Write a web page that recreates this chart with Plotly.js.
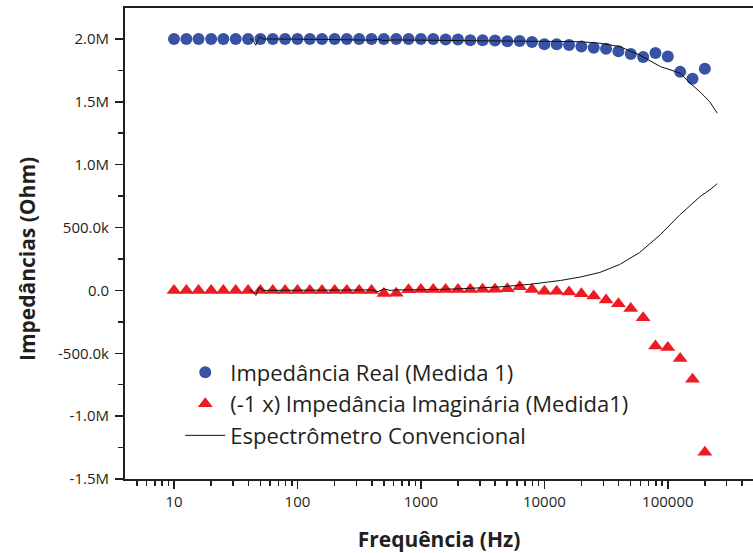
<!DOCTYPE html>
<html>
<head>
<meta charset="utf-8">
<script src="https://cdn.plot.ly/plotly-3.0.1.min.js"></script>
<style>html,body{margin:0;padding:0;background:#fff;}#chart{width:753px;height:553px;}</style>
</head>
<body>
<div id="chart"></div>
<script>
// Measured frequencies (Hz), 10 points per decade from 10 Hz to 200 kHz
const freq = [10, 12.6, 15.8, 20, 25.1, 31.6, 39.8, 50.1, 63.1, 79.4,
  100, 126, 158, 200, 251, 316, 398, 501, 631, 794,
  1000, 1259, 1585, 1995, 2512, 3162, 3981, 5012, 6310, 7943,
  10000, 12589, 15849, 19953, 25119, 31623, 39811, 50119, 63096, 79433,
  100000, 125893, 158489, 199526];

// Impedância Real (Medida 1), Ohm
const realZ = [2.0e6, 2.0e6, 2.0e6, 2.0e6, 2.0e6, 2.0e6, 2.0e6, 2.0e6, 2.0e6, 2.0e6,
  2.0e6, 2.0e6, 2.0e6, 2.0e6, 2.0e6, 2.0e6, 2.0e6, 2.0e6, 2.0e6, 2.0e6,
  2.0e6, 2.0e6, 1.995e6, 1.995e6, 1.99e6, 1.99e6, 1.988e6, 1.982e6, 1.984e6, 1.976e6,
  1.958e6, 1.958e6, 1.952e6, 1.939e6, 1.929e6, 1.921e6, 1.902e6, 1.881e6, 1.857e6, 1.889e6,
  1.860e6, 1.738e6, 1.683e6, 1.762e6];

// (-1 x) Impedância Imaginária (Medida1), Ohm
const imagZ = [0, 0, 0, 0, 0, 0, 0, 0, 0, 0,
  0, 0, 0, 0, 0, 0, 0, -0.025e6, -0.022e6, 0.005e6,
  0.008e6, 0.008e6, 0.008e6, 0.008e6, 0.008e6, 0.01e6, 0.01e6, 0.013e6, 0.029e6, 0.008e6,
  -0.006e6, -0.006e6, -0.013e6, -0.026e6, -0.045e6, -0.077e6, -0.106e6, -0.143e6, -0.217e6, -0.442e6,
  -0.455e6, -0.542e6, -0.706e6, -1.288e6];

// Espectrômetro Convencional (frequency Hz, real and -imag parts, Ohm)
const specFreq = [41, 43.6, 46, 49, 52.5, 63, 100, 158, 251, 398,
  450, 501, 562, 631, 1000, 2000, 4365, 7585, 13490, 19500,
  28180, 40740, 58880, 87100, 125900, 151400, 182000, 218800, 251200];
const specReal = [2.0e6, 1.99e6, 1.95e6, 2.02e6, 2.0e6, 1.998e6, 1.998e6, 1.996e6, 1.995e6, 1.99e6,
  1.998e6, 1.985e6, 1.99e6, 1.992e6, 1.99e6, 1.988e6, 1.987e6, 1.985e6, 1.982e6, 1.978e6,
  1.966e6, 1.939e6, 1.873e6, 1.78e6, 1.728e6, 1.648e6, 1.58e6, 1.5e6, 1.41e6];
const specImag = [0, -0.01e6, -0.04e6, 0.025e6, 0.0e6, 0.0e6, 0.0e6, 0.002e6, 0.002e6, 0.004e6,
  -0.01e6, 0.012e6, 0.0e6, 0.004e6, 0.005e6, 0.012e6, 0.028e6, 0.048e6, 0.079e6, 0.106e6,
  0.143e6, 0.206e6, 0.30e6, 0.444e6, 0.603e6, 0.675e6, 0.745e6, 0.80e6, 0.849e6];

const xTickVals = [10, 100, 1000, 10000, 100000];
const xTickText = ['10', '100', '1000', '10000', '100000'];
const yTickVals = [2.0e6, 1.5e6, 1.0e6, 0.5e6, 0, -0.5e6, -1.0e6, -1.5e6];
const yTickText = ['2.0M', '1.5M', '1.0M', '500.0k', '0.0', '-500.0k', '-1.0M', '-1.5M'];
const yTitle = 'Impedâncias (Ohm)';

const FONT = 'Open Sans, Noto Sans, sans-serif';
const TXT = '#231f20';

const traces = [
  {x: freq, y: realZ, mode: 'markers', type: 'scatter', name: 'Impedância Real (Medida 1)',
   marker: {symbol: 'circle', size: 12, color: '#3953a4'}, legendgroup: 'a'},
  {x: freq, y: imagZ, mode: 'markers', type: 'scatter', name: '(-1 x) Impedância Imaginária (Medida1)',
   marker: {symbol: 'triangle-up', size: 13, color: '#ed1c24'}, legendgroup: 'b'},
  {x: specFreq, y: specReal, mode: 'lines', type: 'scatter', name: 'Espectrômetro Convencional',
   line: {color: '#111', width: 1}, legendgroup: 'c'},
  {x: specFreq, y: specImag, mode: 'lines', type: 'scatter', name: 'Espectrômetro Convencional',
   line: {color: '#111', width: 1}, showlegend: false, legendgroup: 'c'}
];

const layout = {
  width: 753, height: 553,
  margin: {l: 125, r: 0, t: 8, b: 74},
  paper_bgcolor: '#fff', plot_bgcolor: '#fff',
  font: {family: FONT, color: TXT},
  showlegend: true,
  legend: {x: 0.088, y: 0.271, xanchor: 'left', yanchor: 'top', bgcolor: 'rgba(0,0,0,0)',
    font: {size: 22, family: FONT, color: TXT}, itemwidth: 40, tracegroupgap: 4.5, traceorder: 'normal'},
  xaxis: {type: 'log', range: [0.603, 5.69], showline: true, linecolor: '#231f20', linewidth: 2,
    mirror: true, ticks: 'outside', ticklen: 8, tickwidth: 1.5, tickcolor: '#231f20',
    tickvals: xTickVals, ticktext: xTickText, showgrid: false, zeroline: false,
    tickfont: {size: 15, family: FONT, color: TXT},
    minor: {dtick: 'D1', ticks: 'outside', ticklen: 5, tickwidth: 1.5, tickcolor: '#231f20', showgrid: false},
    title: {text: '<b>Frequência (Hz)</b>', font: {size: 21, family: FONT, color: TXT}, standoff: 22}},
  yaxis: {range: [-1.5e6, 2.246e6], showline: true, linecolor: '#231f20', linewidth: 2,
    ticks: 'outside', ticklen: 8, tickwidth: 1.5, tickcolor: '#231f20', ticklabelstandoff: 3,
    tickvals: yTickVals, ticktext: yTickText, showgrid: false, zeroline: false,
    tickfont: {size: 15, family: FONT, color: TXT},
    minor: {dtick: 250000, ticks: 'outside', ticklen: 5, tickwidth: 1.5, tickcolor: '#231f20', showgrid: false}},
  annotations: [{text: '<b>' + yTitle + '</b>', xref: 'paper', yref: 'paper', x: -0.156, y: 0.467,
    xanchor: 'center', yanchor: 'middle', textangle: -90, showarrow: false,
    font: {size: 21, family: FONT, color: TXT}}]
};

Plotly.newPlot('chart', traces, layout, {displayModeBar: false, staticPlot: true});
</script>
</body>
</html>
